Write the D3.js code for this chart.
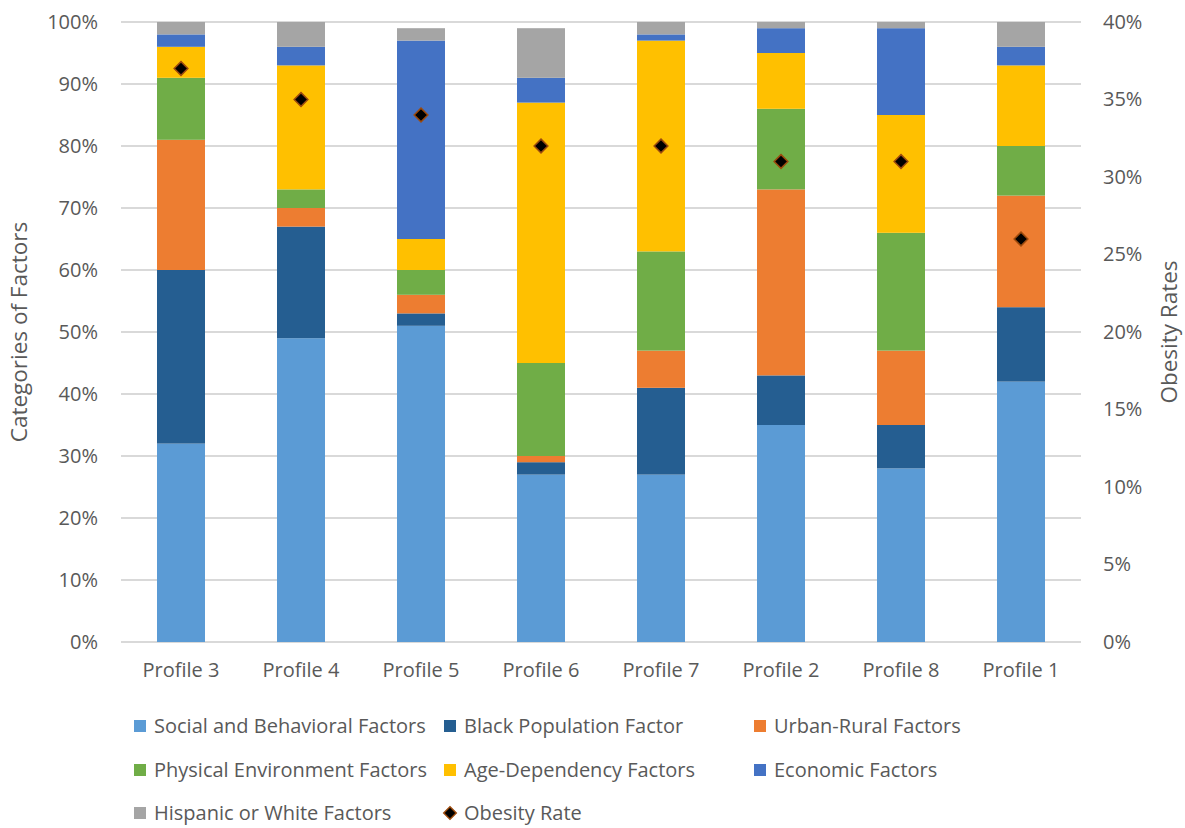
<!DOCTYPE html>
<html>
<head>
<meta charset="utf-8">
<script src="https://cdn.jsdelivr.net/npm/d3@7"></script>
<style>
  body { margin: 0; background: #fff; }
  svg text { font-family: "Open Sans", Lato, sans-serif; fill: #595959; }
</style>
</head>
<body>
<svg id="chart" width="1185" height="828"></svg>
<script>
// profiles in the order they are drawn
const profiles = ['Profile 3', 'Profile 4', 'Profile 5', 'Profile 6', 'Profile 7', 'Profile 2', 'Profile 8', 'Profile 1']

const factorNames = [
    'Social and Behavioral Factors',
    'Black Population Factor',
    'Urban-Rural Factors',
    'Physical Environment Factors',
    'Age-Dependency Factors',
    'Economic Factors',
    'Hispanic or White Factors'
]
const factorColors = ['#5b9bd5', '#255e91', '#ed7d31', '#70ad47', '#ffc000', '#4472c4', '#a5a5a5']

// share of each factor (%) per profile, same order as profiles
const social   = [32, 49, 51, 27, 27, 35, 28, 42]
const black    = [28, 18,  2,  2, 14,  8,  7, 12]
const urban    = [21,  3,  3,  1,  6, 30, 12, 18]
const physical = [10,  3,  4, 15, 16, 13, 19,  8]
const age      = [ 5, 20,  5, 42, 34,  9, 19, 13]
const economic = [ 2,  3, 32,  4,  1,  4, 14,  3]
const hispanic = [ 2,  4,  2,  8,  2,  1,  1,  4]

// obesity rate (%) on the right axis
const obesity = [37, 35, 34, 32, 32, 31, 31, 26]

const leftTicks = [0, 10, 20, 30, 40, 50, 60, 70, 80, 90, 100]
const rightTicks = [0, 5, 10, 15, 20, 25, 30, 35, 40]

const seriesValues = [social, black, urban, physical, age, economic, hispanic]
const table = profiles.map((p, i) => {
    const row = { profile: p, obesity: obesity[i] }
    factorNames.forEach((f, k) => { row[f] = seriesValues[k][i] })
    return row
})

const svg = d3.select('#chart')
const plotL = 121, plotR = 1081, plotT = 22, plotB = 642

const x = d3.scaleBand().domain(profiles).range([plotL, plotR]).paddingInner(0.6).paddingOuter(0.3)
const y = d3.scaleLinear().domain([0, 100]).range([plotB, plotT])
const y2 = d3.scaleLinear().domain([0, 40]).range([plotB, plotT])

// gridlines
svg.append('g')
    .selectAll('line')
    .data(leftTicks)
    .enter()
    .append('line')
        .attr('x1', plotL)
        .attr('x2', plotR)
        .attr('y1', d => y(d))
        .attr('y2', d => y(d))
        .style('stroke', '#d9d9d9')
        .style('stroke-width', 2)

// stacked bars
const stack = d3.stack().keys(factorNames)(table)
svg.append('g')
    .selectAll('g')
    .data(stack)
    .enter()
    .append('g')
        .style('fill', (d, i) => factorColors[i])
    .selectAll('rect')
    .data(d => d)
    .enter()
    .append('rect')
        .attr('x', d => x(d.data.profile))
        .attr('width', x.bandwidth())
        .attr('y', d => y(d[1]))
        .attr('height', d => y(d[0]) - y(d[1]))

// obesity markers
const diamond = d3.symbol().type(d3.symbolDiamond2).size(120)
svg.append('g')
    .selectAll('path')
    .data(table)
    .enter()
    .append('path')
        .attr('d', diamond)
        .attr('transform', d => `translate(${x(d.profile) + x.bandwidth() / 2},${y2(d.obesity)})`)
        .style('fill', 'black')
        .style('stroke', '#9c4a0d')
        .style('stroke-width', 1.5)

// axes, no domain line
const leftAxis = svg.append('g')
    .attr('transform', `translate(${plotL},0)`)
    .call(d3.axisLeft(y).tickValues(leftTicks).tickSize(0).tickPadding(23).tickFormat(d => d + '%'))
const rightAxis = svg.append('g')
    .attr('transform', `translate(${plotR},0)`)
    .call(d3.axisRight(y2).tickValues(rightTicks).tickSize(0).tickPadding(22).tickFormat(d => d + '%'))
const bottomAxis = svg.append('g')
    .attr('transform', `translate(0,${plotB})`)
    .call(d3.axisBottom(x).tickSize(0).tickPadding(21))

;[leftAxis, rightAxis, bottomAxis].forEach(a => {
    a.select('.domain').remove()
    a.selectAll('text')
        .style('font-size', '20px')
        .style('font-family', '"Open Sans", Lato, sans-serif')
        .style('fill', '#595959')
})

// axis titles
svg.append('text')
    .attr('transform', `translate(27,${(plotT + plotB) / 2}) rotate(-90)`)
    .attr('text-anchor', 'middle')
    .style('font-size', '22.5px')
    .text('Categories of Factors')
svg.append('text')
    .attr('transform', `translate(1177,${(plotT + plotB) / 2}) rotate(-90)`)
    .attr('text-anchor', 'middle')
    .style('font-size', '22.5px')
    .text('Obesity Rates')

// legend
const legendItems = factorNames.map((f, i) => ({ name: f, color: factorColors[i], type: 'rect' }))
legendItems.push({ name: 'Obesity Rate', type: 'diamond' })
const legendCols = [134, 444, 754]
const legendRows = [726, 770, 813]

const item = svg.append('g')
    .selectAll('g')
    .data(legendItems)
    .enter()
    .append('g')
        .attr('transform', (d, i) => `translate(${legendCols[i % 3]},${legendRows[Math.floor(i / 3)]})`)

item.filter(d => d.type === 'rect')
    .append('rect')
        .attr('x', 0)
        .attr('y', -6)
        .attr('width', 12)
        .attr('height', 12)
        .style('fill', d => d.color)
item.filter(d => d.type === 'diamond')
    .append('path')
        .attr('d', d3.symbol().type(d3.symbolDiamond2).size(100))
        .attr('transform', 'translate(6,0)')
        .style('fill', 'black')
        .style('stroke', '#9c4a0d')
        .style('stroke-width', 1.5)
item.append('text')
    .attr('x', 20)
    .attr('dy', '0.33em')
    .style('font-size', '20px')
    .text(d => d.name)
</script>
</body>
</html>
